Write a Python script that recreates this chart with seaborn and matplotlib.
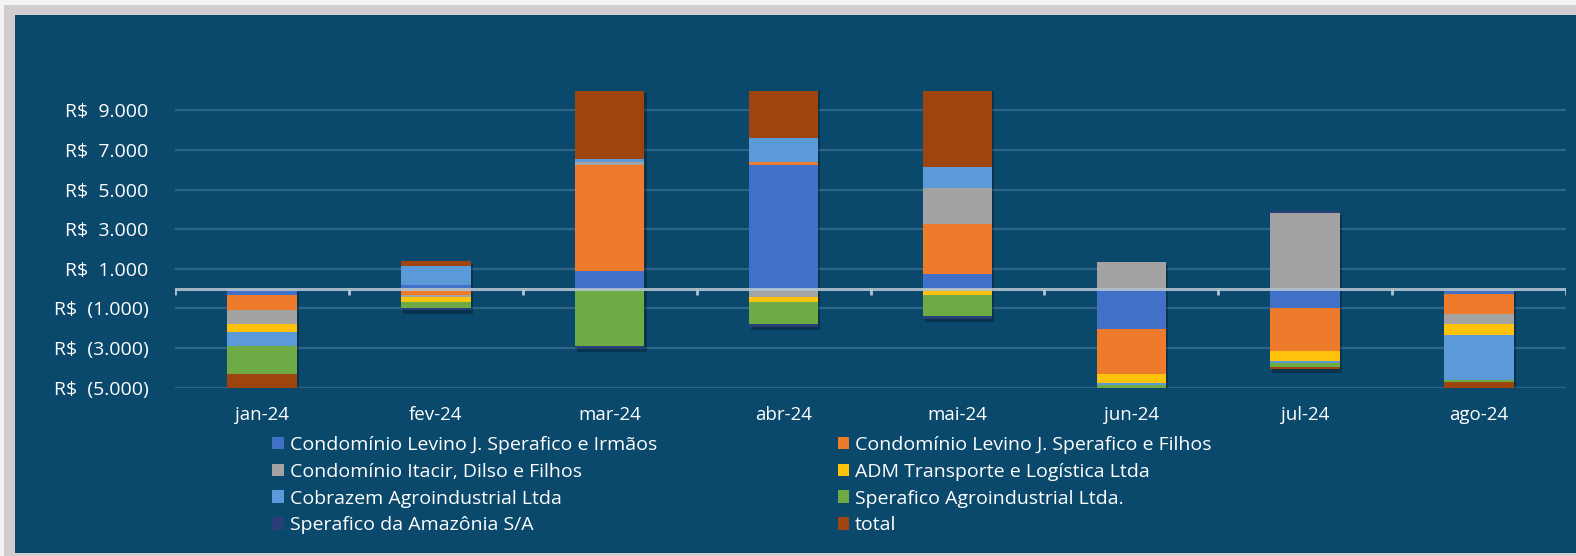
import matplotlib.patheffects as pe
import matplotlib.pyplot as plt
import numpy as np
import seaborn as sns
from matplotlib.patches import Patch, Rectangle
from matplotlib.ticker import FixedLocator, FuncFormatter

months = ["jan-24", "fev-24", "mar-24", "abr-24", "mai-24", "jun-24", "jul-24", "ago-24"]

series_names = [
    "Condomínio Levino J. Sperafico e Irmãos",
    "Condomínio Levino J. Sperafico e Filhos",
    "Condomínio Itacir, Dilso e Filhos",
    "ADM Transporte e Logística Ltda",
    "Cobrazem Agroindustrial Ltda",
    "Sperafico Agroindustrial Ltda.",
    "Sperafico da Amazônia S/A",
    "total",
]

irmaos = [-330, 200, 880, 6240, 730, -2045, -985, -280]
filhos = [-760, -330, 5350, 150, 2525, -2270, -2170, -1010]
itacir = [-710, -90, 135, -430, 1820, 1340, 3810, -505]
adm = [-400, -250, 0, -250, -330, -440, -505, -570]
cobrazem = [-710, 920, 170, 1210, 1060, -120, -120, -2260]
sperafico_agro = [-1410, -290, -2900, -1110, -1060, -300, -170, -100]
amazonia = [0, -150, -120, -135, -135, 0, 100, 0]
total = [-4320, 290, 3515, 5670, 4610, -3835, -130, -4725]

colors = ["#4170c8", "#ee7b2c", "#a3a3a3", "#ffc20a", "#5a9ad8",
          "#6eab44", "#2a3f78", "#9e450f"]

BG = "#0a486c"
TXT = "#ffffff"

sns.set_style("white")
plt.rcParams["font.family"] = ["Open Sans", "DejaVu Sans"]

W, H = 1576, 556
fig = plt.figure(figsize=(W / 100, H / 100), dpi=100, facecolor="#f3f3f3")
fig.patches.append(Rectangle((4 / W, 0), 1, (H - 5) / H, transform=fig.transFigure,
                             facecolor="#d1cdcf", edgecolor="none", zorder=-10))
fig.patches.append(Rectangle((15 / W, 3 / H), 1, (553 - 15) / H, transform=fig.transFigure,
                             facecolor=BG, edgecolor="none", zorder=-9))

ax = fig.add_axes([175 / W, (H - 387.5) / H, (1566 - 175) / W, (387.5 - 90.5) / H])
ax.set_facecolor(BG)

values = np.array([irmaos, filhos, itacir, adm, cobrazem, sperafico_agro, amazonia, total], dtype=float)
pos_cum = np.where(values > 0, values, 0).cumsum(axis=0)
neg_cum = np.where(values < 0, values, 0).cumsum(axis=0)

# stacked look: draw cumulative heights from the last series back to the first
shadow = [pe.SimplePatchShadow(offset=(1.5, -2.5), shadow_rgbFace="black", alpha=0.28), pe.Normal()]
for i in reversed(range(len(series_names))):
    for cum in (pos_cum, neg_cum):
        sns.barplot(x=months, y=cum[i], color=colors[i], saturation=1, width=0.4,
                    errorbar=None, linewidth=0, ax=ax)
n_bars = len(months)
for k, bar in enumerate(ax.patches):
    if k < 2 * n_bars:
        bar.set_path_effects(shadow)

ax.set_xlim(-0.5, len(months) - 0.5)
ax.set_ylim(-5000, 10000)

yticks = [9000, 7000, 5000, 3000, 1000, -1000, -3000, -5000]


def brl(v, _):
    s = f"{abs(v):,.0f}".replace(",", ".")
    return f"R$  ({s})" if v < 0 else f"R$  {s}"


ax.yaxis.set_major_locator(FixedLocator(yticks))
ax.yaxis.set_major_formatter(FuncFormatter(brl))
ax.grid(axis="y", color="#2e6589", linewidth=1.6)
ax.grid(axis="x", visible=False)
ax.set_axisbelow(True)

ax.axhline(0, color="#b3c3ce", linewidth=2.2, alpha=0.9, zorder=5)
ax.vlines(np.arange(-0.5, len(months)), -350, 0, color="#b3c3ce", linewidth=2, zorder=5)

for s in ax.spines.values():
    s.set_visible(False)
ax.tick_params(axis="both", length=0, colors=TXT)
ax.tick_params(axis="y", pad=19, labelsize=14)
ax.tick_params(axis="x", pad=13, labelsize=13.5)
ax.set_xlabel("")
ax.set_ylabel("")

handles = [Patch(facecolor=c, edgecolor="none") for c in colors]
order = [0, 2, 4, 6, 1, 3, 5, 7]
leg = fig.legend([handles[i] for i in order], [series_names[i] for i in order],
                 ncol=2, loc="upper left", bbox_to_anchor=(272 / W, (H - 436) / H),
                 frameon=False, fontsize=14, labelcolor=TXT, handlelength=0.6,
                 handleheight=0.6, handletextpad=0.3, columnspacing=9.3,
                 labelspacing=0.45, borderpad=0, borderaxespad=0)

fig.savefig("out.png", dpi=100, facecolor=fig.get_facecolor())
